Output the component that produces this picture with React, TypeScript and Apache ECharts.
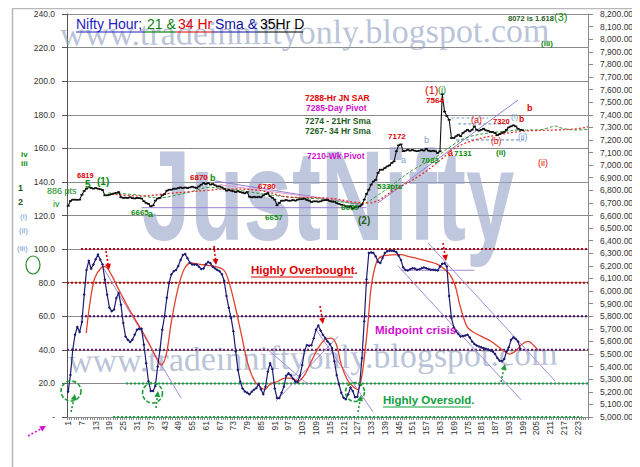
import React, { useEffect, useRef } from "react";
import * as echarts from "echarts";

const categories = Array.from({ length: 227 }, (_, i) => String(i + 1));

// Hourly Nifty close (right axis)
const price = [
  6676, 6715, 6726, 6726, 6725, 6726, 6765, 6795, 6813, 6824,
  6819, 6813, 6819, 6813, 6808, 6802, 6760, 6760, 6765, 6770,
  6775, 6780, 6786, 6745, 6740, 6742, 6740, 6745, 6738, 6735,
  6740, 6738, 6735, 6713, 6700, 6692, 6673, 6680, 6718, 6735,
  6740, 6760, 6770, 6797, 6805, 6805, 6813, 6813, 6818, 6823,
  6818, 6823, 6818, 6823, 6829, 6823, 6818, 6831, 6845, 6858,
  6850, 6858, 6845, 6850, 6840, 6831, 6831, 6823, 6813, 6797,
  6802, 6797, 6792, 6786, 6792, 6786, 6781, 6776, 6786, 6749,
  6744, 6749, 6744, 6749, 6744, 6760, 6770, 6778, 6752, 6740,
  6726, 6681, 6700, 6718, 6718, 6723, 6718, 6718, 6723, 6718,
  6726, 6729, 6731, 6734, 6723, 6718, 6707, 6712, 6712, 6710,
  6712, 6720, 6722, 6723, 6715, 6710, 6710, 6699, 6692, 6686,
  6681, 6673, 6665, 6673, 6654, 6665, 6665, 6673, 6686, 6726,
  6771, 6805, 6845, 6870, 6883, 6938, 6964, 6964, 6977, 6990,
  6998, 7017, 7030, 7110, 7157, 7165, 7110, 7115, 7123, 7115,
  7120, 7115, 7110, 7115, 7120, 7115, 7130, 7115, 7110, 7115,
  7110, 7096, 7110, 7564, 7425, 7390, 7360, 7215, 7215, 7229,
  7242, 7229, 7255, 7268, 7281, 7268, 7281, 7308, 7281, 7273,
  7281, 7289, 7276, 7273, 7263, 7263, 7255, 7237, 7247, 7255,
  7263, 7281, 7300, 7308, 7316, 7308, 7289, 7281, 7278,
];

// Oscillator (left axis)
const osc = [
  15, 25, 40, 49, 53.6, 50.6, 56.6, 73, 87.5, 93,
  88.3, 90.8, 94, 96.7, 93.7, 90.8, 81.8, 72.8, 65, 63,
  64, 70.8, 73.8, 66.9, 56, 48, 46, 44.7, 46, 49,
  52, 52.5, 52.5, 43, 32, 21.3, 15.5, 15.5, 18.5, 30,
  40, 52, 60, 71, 80, 85, 86.8, 87.5, 90, 93.5,
  96.5, 97, 94.5, 92, 90.8, 90.8, 90.8, 89.5, 88.2, 88.5,
  91, 92.3, 91.5, 89.5, 88.5, 87.5, 86.8, 85, 81, 72,
  65, 59, 51, 39, 28, 21, 17, 15.2, 14.5, 13.5,
  15, 16.3, 17.3, 19.7, 16.5, 13.5, 18, 27, 32, 28.5,
  17, 11.3, 11.3, 14.5, 18, 24.5, 26, 24.8, 22.8, 21,
  20.8, 24.5, 31, 39.5, 42.8, 42.5, 42.8, 46.8, 52, 54.5,
  51.5, 49, 47, 45, 43.5, 41, 33.2, 25, 19.5, 14.5,
  11.5, 10.5, 13.5, 17.5, 15.5, 11.8, 12, 19, 35, 57,
  82, 97.7, 98, 97.7, 95.7, 92.5, 91.7, 94.7, 97.7, 98.7,
  99, 99, 98.8, 98.2, 96, 93.5, 89, 87.5, 87.2, 88,
  88.6, 88.5, 87.7, 88, 88.6, 89.1, 88.6, 88.2, 87.7, 87.7,
  87.5, 87.3, 89.5, 91.2, 91.5, 89.7, 72, 59, 53.5, 51,
  49.4, 48, 48.2, 48.5, 49, 47.3, 45, 43.5, 42.6, 42,
  41.5, 41, 40.5, 40.2, 39.6, 39, 37.5, 35.2, 33.5, 33.2,
  34.5, 39, 41.5, 46, 47.5, 46.5, 45, 40.5,
];

// Smoothed oscillator signal [category, value]
const oscSignal = [
  [8.9, 50], [10.4, 67], [12.6, 82.8], [15.5, 89], [17, 89.5], [19.8, 84.8], [22.7, 76.8],
  [25.7, 69], [28.5, 62], [32.9, 52], [35.8, 45], [38.7, 37], [41.5, 31], [43.7, 37],
  [46, 57], [48.9, 76.8], [51.8, 88.7], [54.7, 91.7], [57.6, 91], [62, 90.3], [66.3, 89.2],
  [69.2, 86.8], [71.4, 78.8], [73.6, 67], [76.5, 49], [79.4, 31.2], [82.3, 21.3],
  [85.2, 17.3], [86.7, 16.5], [88.8, 19.3], [92.5, 21.3], [95.4, 23.2], [98.3, 23.2],
  [101.2, 21.3], [104.1, 25.2], [107, 33.2], [109.9, 41], [112.8, 46], [115.7, 47],
  [117.9, 43], [120, 31.2], [123, 21.3], [125.9, 17.3], [127.3, 16.3], [128.8, 23.2],
  [130.2, 37], [131.7, 57], [133.1, 78], [135.3, 92], [137.5, 95.7], [141.8, 96.5],
  [146.2, 96.7], [149.1, 95.7], [152, 94.7], [157.8, 92.7], [162.2, 90.8], [164.4, 88.7],
  [167.3, 84.8], [169.5, 78.8], [171.6, 67], [173.8, 57], [175.2, 53], [178.2, 50],
  [182.5, 47], [185.4, 45], [188.3, 42], [191.2, 39], [193.4, 37.5], [196.2, 39.5],
  [198.5, 43], [201.4, 45], [204.3, 42], [205.7, 40],
];

// 21 Hr SMA and 34 Hr SMA [category, value]
const sma21 = [
  [18.4, 6779], [30.2, 6765], [40.2, 6740], [47.6, 6760], [56.3, 6797], [62, 6823],
  [67.6, 6815], [76.4, 6797], [88.1, 6765], [98.2, 6745], [114.2, 6726], [123, 6700],
  [128.6, 6692], [135, 6750], [143.4, 6860], [151, 6960], [160.8, 7060], [167.8, 7150],
  [174, 7215], [184, 7255], [191.4, 7268], [198.4, 7279], [205.7, 7279], [210.1, 7295],
  [213.2, 7310], [215.8, 7295], [221.9, 7279], [227.5, 7285],
];
const sma34 = [
  [20, 6770], [32.8, 6755], [45, 6775], [62, 6800], [69.4, 6810], [83.8, 6800],
  [98.2, 6745], [114.3, 6738], [126, 6705], [131.7, 6700], [143.4, 6805], [154.8, 6925],
  [163.5, 7045], [169.6, 7136], [178.3, 7200], [188.3, 7240], [198.4, 7268],
  [213.2, 7279], [221.9, 7287], [227.5, 7303],
];

// Oscillator reference levels and their category spans
const oscLevels = [100, 80, 60, 40, 20, 0];
const oscLevelSpans = [[6.6, 227.5], [0.5, 227.5], [6.6, 227.5], [0.5, 227.5], [26.2, 227.5], [20.6, 225]];

// Trend lines: pairs of [category, value]
const oscTrends = [
  [[15.8, 90], [50.2, 11.3]],
  [[88.1, 40], [105.5, 19.3]],
  [[91.6, 9.6], [118.6, 48]],
  [[109, 52], [133.8, 3.2]],
  [[157.8, 103.6], [213.1, 21.5]],
  [[144.7, 90], [198.3, 10.3]],
  [[146, 87.4], [178, 87.4]],
];
const priceTrends = [
  [[33, 6662], [131, 6662]],
  [[65, 6874], [128, 6690]],
  [[136, 6700], [197, 7517]],
];
const priceTrendsPink = [[[67, 6845], [128, 6695]]];
const pivotLines = [
  [[168, 7374], [184, 7374]],
  [[171, 7327], [193, 7327]],
  [[170, 7200], [200, 7200]],
];

const FONT = '"Liberation Sans", Arial, sans-serif';

function txt(text: string, x: number, y: number, color: string, size = 8.5, bold = true, align = "left") {
  return {
    type: "text",
    x,
    y,
    z: 100,
    style: {
      text,
      fill: color,
      font: `${bold ? "bold " : ""}${size}px ${FONT}`,
      align,
      verticalAlign: "middle",
      textAlign: align,
      textVerticalAlign: "middle",
    },
  };
}

function uline(x1: number, x2: number, y: number, color: string) {
  return { type: "line", z: 100, shape: { x1, y1: y, x2, y2: y }, style: { stroke: color, lineWidth: 1.2 } };
}

function arrow(x1: number, y1: number, x2: number, y2: number, color: string, dash: number[] = [2, 2]) {
  const a = Math.atan2(y2 - y1, x2 - x1);
  const s = 6;
  const bx = x2 - s * Math.cos(a);
  const by = y2 - s * Math.sin(a);
  const px = -Math.sin(a) * 3;
  const py = Math.cos(a) * 3;
  return [
    { type: "line", z: 100, shape: { x1, y1, x2: bx, y2: by }, style: { stroke: color, lineWidth: 1.6, lineDash: dash } },
    { type: "polygon", z: 100, shape: { points: [[x2, y2], [bx + px, by + py], [bx - px, by - py]] }, style: { fill: color } },
  ];
}

function dashCircle(cx: number, cy: number, r: number) {
  return { type: "circle", z: 100, shape: { cx, cy, r }, style: { fill: "transparent", stroke: "#1f9a3a", lineWidth: 1.6, lineDash: [4, 2] } };
}

export default function App() {
  const ref = useRef<HTMLDivElement>(null);
  useEffect(() => {
    if (!ref.current) return;
    const chart = echarts.init(ref.current, undefined, { renderer: "svg" });

    const RED = "#e00000";
    const GRN = "#0a8a0a";
    const DGRN = "#1d5e1d";
    const MAG = "#d010d0";
    const LBLUE = "#6f9ad0";

    const levelColors = ["#b00020", "#c00000", "#4b0a6e", "#6a1a6a", "#10a040", "#10a040"];

    const series: any[] = [];

    oscLevels.forEach((lv, i) => {
      series.push({
        type: "line", xAxisIndex: 1, yAxisIndex: 0, symbol: "none", silent: true, z: 3,
        data: [[oscLevelSpans[i][0], lv], [oscLevelSpans[i][1], lv]],
        lineStyle: { color: levelColors[i], width: 2, type: [2, 2] },
      });
    });

    oscTrends.forEach((seg) => {
      series.push({
        type: "line", xAxisIndex: 1, yAxisIndex: 0, symbol: "none", silent: true, z: 3,
        data: seg, lineStyle: { color: "#a58ad8", width: 1 },
      });
    });
    priceTrends.forEach((seg) => {
      series.push({
        type: "line", xAxisIndex: 1, yAxisIndex: 1, symbol: "none", silent: true, z: 3,
        data: seg, lineStyle: { color: "#9b7fd6", width: 1 },
      });
    });
    priceTrendsPink.forEach((seg) => {
      series.push({
        type: "line", xAxisIndex: 1, yAxisIndex: 1, symbol: "none", silent: true, z: 3,
        data: seg, lineStyle: { color: "#e29ac8", width: 1 },
      });
    });
    pivotLines.forEach((seg) => {
      series.push({
        type: "line", xAxisIndex: 1, yAxisIndex: 1, symbol: "none", silent: true, z: 3,
        data: seg, lineStyle: { color: "#7f9fcf", width: 1.2, type: [3, 2] },
      });
    });

    series.push({
      name: "21 Hr Sma", type: "line", xAxisIndex: 1, yAxisIndex: 1, symbol: "none", smooth: 0.4, z: 4,
      data: sma21, lineStyle: { color: "#2f9a2f", width: 1, type: [3, 2] },
    });
    series.push({
      name: "34 Hr Sma", type: "line", xAxisIndex: 1, yAxisIndex: 1, symbol: "none", smooth: 0.4, z: 4,
      data: sma34, lineStyle: { color: "#e43030", width: 1.3, type: [2, 2] },
    });
    series.push({
      name: "Signal", type: "line", xAxisIndex: 1, yAxisIndex: 0, symbol: "none", smooth: 0.35, z: 5,
      data: oscSignal, lineStyle: { color: "#e2402e", width: 1.3 },
    });
    series.push({
      name: "Oscillator", type: "line", xAxisIndex: 0, yAxisIndex: 0, z: 6,
      data: osc, showAllSymbol: true, symbol: "diamond", symbolSize: 3,
      lineStyle: { color: "#1b1b70", width: 1.2 }, itemStyle: { color: "#1b1b70" },
    });
    series.push({
      name: "Nifty", type: "line", xAxisIndex: 0, yAxisIndex: 1, z: 7,
      data: price, showAllSymbol: true, symbol: "rect", symbolSize: [3, 1.6],
      lineStyle: { color: "#111111", width: 1.1 }, itemStyle: { color: "#111111" },
    });

    const wmFill = "rgba(140,156,192,0.62)";
    const graphic: any[] = [
      { type: "rect", z: 0, shape: { x: 4.5, y: 0.5, width: 633, height: 465 }, style: { fill: "transparent", stroke: "#b8b8b8", lineWidth: 1.5 } },
      // watermarks
      {
        type: "text", x: 52, y: 26, z: 1, rotation: 0.008,
        style: { text: "www.tradeinniftyonly.blogspot.com", fill: wmFill, font: '34px "Liberation Serif", serif', verticalAlign: "middle", textVerticalAlign: "middle" },
      },
      {
        type: "text", x: 60, y: 353, z: 1, rotation: 0.016,
        style: { text: "www.tradeinniftyonly.blogspot.com", fill: wmFill, font: '34px "Liberation Serif", serif', verticalAlign: "middle", textVerticalAlign: "middle" },
      },
      {
        type: "text", x: 134, y: 188, z: 1, scaleX: 0.68, scaleY: 1,
        style: { text: "JustNifty", fill: "rgba(150,165,200,0.62)", font: `bold 128px ${FONT}`, verticalAlign: "middle", textVerticalAlign: "middle" },
      },
      // title
      txt("Nifty Hour;", 68, 16, "#1c1cc0", 14, false),
      txt("21 &", 139, 16, "#108010", 14, false),
      txt("34 Hr", 170, 16, "#e00000", 14, false),
      txt("Sma &", 207, 16, "#1010a0", 14, false),
      txt("35Hr D", 252, 16, "#000000", 14, false),
      uline(68, 136, 24, "#1c1cc0"),
      uline(136, 168, 24, "#108010"),
      uline(168, 205, 24, "#e00000"),
      uline(205, 250, 24, "#1010a0"),
      uline(250, 295, 24, "#000000"),
      // info block
      txt("7288-Hr JN SAR", 297, 90, RED),
      txt("7285-Day Pivot", 298, 100, MAG),
      txt("7274 - 21Hr Sma", 297, 113, DGRN),
      txt("7267- 34 Hr Sma", 297, 123, DGRN),
      txt("7210-Wk Pivot", 299, 148, MAG),
      // top right
      txt("8072 is 1.618", 500, 10, DGRN, 7.5),
      txt("(3)", 546, 9, GRN, 11, false),
      txt("(iii)", 533, 35, GRN, 8),
      // wave labels on price
      txt("(1)", 417, 82, RED, 11, false),
      txt("(i)", 430, 82, GRN, 9, false),
      txt("7564", 418, 92, RED, 8),
      txt("(a)", 463, 112, RED, 9, false),
      txt("7320", 485, 113, RED, 7.5),
      txt("(i)", 503, 108, LBLUE, 8, false),
      txt("b", 511, 111, RED, 8.5),
      txt("b", 519, 100, RED, 9),
      txt("(b)", 483, 133, RED, 8.5, false),
      txt("(ii)", 510, 129, LBLUE, 8.5, false),
      txt("(ii)", 488, 144, GRN, 8),
      txt("(ii)", 530, 155, RED, 9, false),
      txt("7172", 380, 128, RED, 8),
      txt("b", 416, 132, "#7f9fcf", 9, false),
      txt("a", 393, 152, "#7f9fcf", 9, false),
      txt("7083", 413, 152, GRN, 8),
      txt("a", 440, 145, RED, 9),
      txt("7131", 446, 145, GRN, 8),
      txt("533pts", 369, 178, GRN, 8),
      txt("6639", 333, 199, GRN, 8),
      txt("(2)", 350, 212, DGRN, 10),
      txt("6657", 257, 209, GRN, 8),
      txt("6780", 250, 178, RED, 8),
      txt("6870", 182, 169, RED, 8),
      txt("b", 202, 170, GRN, 9),
      txt("6665", 123, 204, GRN, 8),
      txt("a", 140, 206, GRN, 9),
      txt("6819", 69, 167, RED, 7.5),
      txt("5", 77, 176, GRN, 10),
      txt("(1)", 89, 173, GRN, 10),
      txt("886 pts", 39, 183, GRN, 9, false),
      txt("iv", 45, 196, GRN, 9, false),
      // left column
      txt("iv", 13, 146, GRN, 8),
      txt("iii", 13, 155, GRN, 8),
      txt("1", 10, 180, DGRN, 9),
      txt("2", 10, 194, DGRN, 9),
      txt("(i)", 12, 208, LBLUE, 8, false),
      txt("(ii)", 11, 222, LBLUE, 8, false),
      txt("(iii)", 9, 240, LBLUE, 8, false),
      { type: "ellipse", z: 100, shape: { cx: 25, cy: 257, rx: 7, ry: 9 }, style: { fill: "transparent", stroke: "#2a8a2a", lineWidth: 1.2 } },
      // oscillator labels
      txt("Highly Overbought.", 243, 262, RED, 11.5),
      uline(243, 345, 269, RED),
      txt("Midpoint crisis", 367, 322, MAG, 11.5),
      txt("Highly Oversold.", 375, 392, "#10a040", 11.5),
      uline(375, 463, 399, "#10a040"),
      dashCircle(63, 383, 10),
      dashCircle(144.5, 385, 10),
      dashCircle(347, 384, 9.5),
      ...arrow(63, 404, 67, 386, "#1f9a3a"),
      ...arrow(148, 400, 150, 383, "#1f9a3a"),
      ...arrow(350, 404, 353, 387, "#1f9a3a"),
      ...arrow(493, 374, 497, 356, "#1f9a3a"),
      ...arrow(98, 243, 101, 262, "#e00000"),
      ...arrow(206, 238, 208, 257, "#e00000"),
      ...arrow(312, 298, 315, 316, "#e00000"),
      ...arrow(435, 235, 438, 253, "#e00000"),
      ...arrow(20, 428, 38, 418, MAG),
    ];

    const option: any = {
      animation: false,
      backgroundColor: "#ffffff",
      grid: { left: 59, right: 60, top: 6, bottom: 58, containLabel: false },
      xAxis: [
        {
          type: "category",
          data: categories,
          boundaryGap: true,
          axisLine: { show: true, lineStyle: { color: "#8a8a8a", width: 1 } },
          axisTick: { show: true, interval: 0, length: 3, lineStyle: { color: "#8a8a8a" } },
          axisLabel: { interval: 5, rotate: 90, fontSize: 8.5, color: "#333", fontFamily: FONT, margin: 4 },
          splitLine: { show: false },
        },
        { type: "value", min: 0.5, max: 227.5, show: false, splitLine: { show: false } },
      ],
      yAxis: [
        {
          type: "value",
          min: 0,
          max: 240,
          interval: 20,
          position: "left",
          axisLine: { show: true, lineStyle: { color: "#555", width: 1 } },
          axisTick: { show: true, inside: false, length: 5, lineStyle: { color: "#555" } },
          axisLabel: {
            fontSize: 8.5, color: "#333", fontFamily: FONT, margin: 12,
            formatter: (v: number) => (v === 0 ? "-" : v.toFixed(1)),
          },
          splitLine: { show: true, lineStyle: { color: "#8c8c8c", width: 1 } },
        },
        {
          type: "value",
          min: 5000,
          max: 8200,
          interval: 100,
          position: "right",
          axisLine: { show: true, lineStyle: { color: "#8a8a8a", width: 1 } },
          axisTick: { show: true, inside: false, length: 5, lineStyle: { color: "#8a8a8a" } },
          axisLabel: {
            fontSize: 8.5, color: "#333", fontFamily: FONT, margin: 12,
            formatter: (v: number) => v.toLocaleString("en-US", { minimumFractionDigits: 2, maximumFractionDigits: 2 }),
          },
          splitLine: { show: false },
        },
      ],
      series,
      graphic,
    };

    chart.setOption(option);
    return () => chart.dispose();
  }, []);

  return <div ref={ref} style={{ width: 640, height: 467 }} />;
}
